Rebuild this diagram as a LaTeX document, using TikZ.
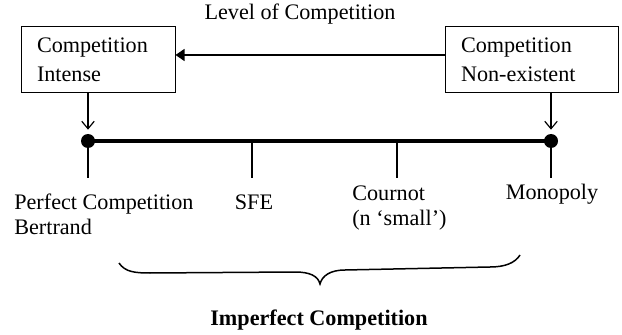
\documentclass[tikz,border=0pt]{standalone}
\usepackage{fontspec}
\setmainfont{Liberation Serif}
\usetikzlibrary{arrows.meta}
\begin{document}
\begin{tikzpicture}[x=0.6pt,y=-0.6pt,
  txt/.style={inner sep=0pt,font=\fontsize{13.3}{15}\selectfont},
  boxnode/.style={draw,line width=0.6pt,inner xsep=16*0.6pt,inner ysep=0pt,minimum height=66*0.6pt,align=left,font=\fontsize{13.3}{17.4}\selectfont},
  dot/.style={circle,fill=black,inner sep=0pt,minimum size=8.4pt},
  thin/.style={line width=0.8pt},
  downarrow/.style={line width=0.7pt,-{Straight Barb[length=4.5pt,width=7.5pt,line width=0.7pt]}}
]
\useasboundingbox (0,0) rectangle (622,335);
\node[txt,anchor=base] (lvl) at (300,20) {Level of Competition};
\node[boxnode,text width=122*0.6pt] (L) at (98,60) {Competition\\Intense};
\node[boxnode,text width=141*0.6pt] (R) at (531.5,60) {Competition\\Non-existent};
\draw[line width=0.7pt,-{Triangle[length=5.4pt,width=7.2pt]}] ([yshift=3pt]R.west) -- ([yshift=3pt]L.east);
\node[dot] (c1) at (88,141) {};
\node[dot] (c2) at (551,141) {};
\coordinate (sfe) at (252,141);
\coordinate (cou) at (397,141);
\coordinate (b1) at (88,178);
\coordinate (b2) at (252,178);
\coordinate (b3) at (397,178);
\coordinate (b4) at (551,178);
\draw[downarrow,shorten >=2.4pt] (c1 |- L.south) -- (c1.north);
\draw[downarrow,shorten >=2.4pt] (c2 |- R.south) -- (c2.north);
\draw[line width=2.1pt] (c1.center) -- (c2.center);
\draw[thin] (c1.south) -- (b1);
\draw[thin] (sfe) -- (b2);
\draw[thin] (cou) -- (b3);
\draw[thin] (c2.south) -- (b4);
\node[txt,anchor=base west,align=left] (pc) at (14,234) {Perfect Competition\\Bertrand};
\node[txt,anchor=base] (sfel) at (254,209) {SFE};
\node[txt,anchor=base west,align=left] (cl) at (352,225) {Cournot\\(n `small')};
\node[txt,anchor=base] (ml) at (552,199) {Monopoly};
\draw[line width=0.9pt] (119,263) .. controls (125,272) and (135,273) .. (150,273) -- (295,272) .. controls (310,272) and (318,276) .. (320,284) .. controls (322,276) and (330,270) .. (345,270) -- (490,267) .. controls (505,267) and (515,263) .. (520,255);
\node[txt,anchor=base,font=\fontsize{13.3}{15}\selectfont\bfseries] (ic) at (319,325) {Imperfect Competition};
\end{tikzpicture}
\end{document}
